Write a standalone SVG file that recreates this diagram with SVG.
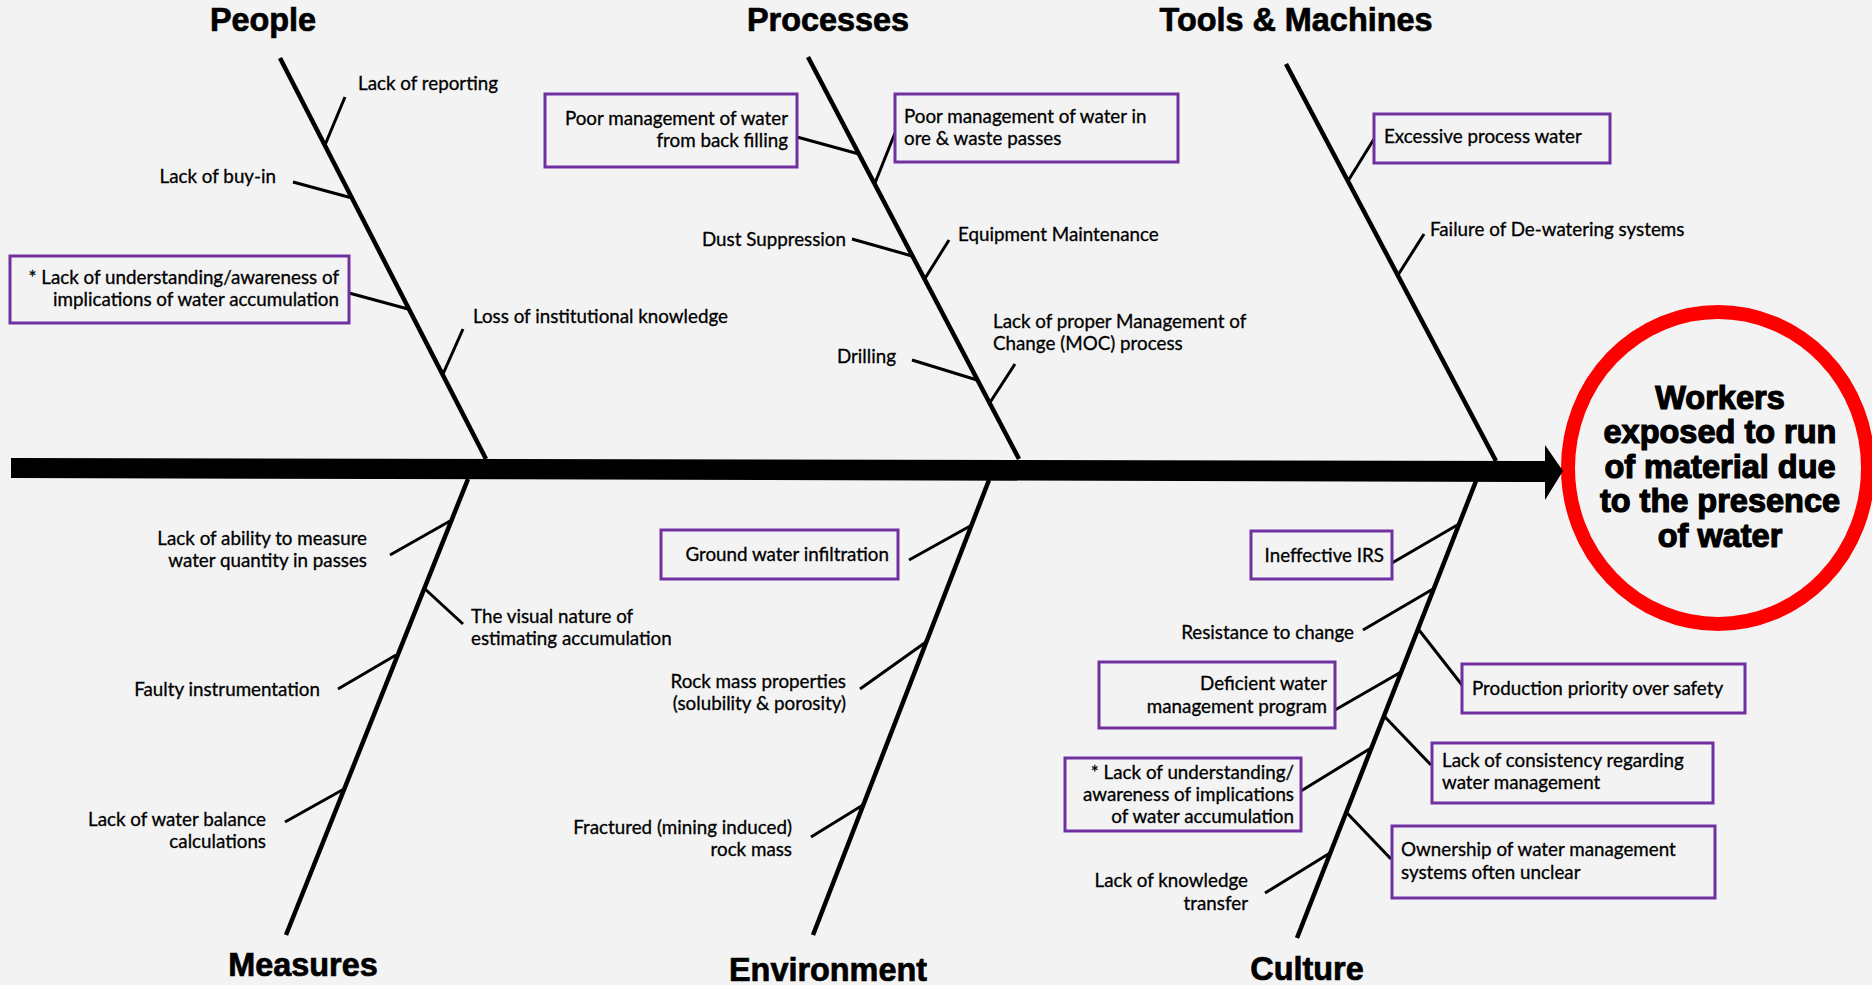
<svg xmlns="http://www.w3.org/2000/svg" width="1872" height="985" viewBox="0 0 1872 985">
<style>
.bg{fill:#f3f3f3}
.bone{stroke:#000;stroke-width:4.5;fill:none;stroke-linecap:butt}
.br{stroke:#000;stroke-width:3;fill:none}
.box{fill:#f3f3f3;stroke:#7030a0;stroke-width:3}
.t{font-family:Lato,"Carlito","Liberation Sans",sans-serif;font-size:18.8px;fill:#000;stroke:#000;stroke-width:0.3}
.e{text-anchor:end}
.cat{font-family:"Liberation Sans",Arial,sans-serif;font-weight:bold;font-size:32.4px;fill:#000;text-anchor:middle;stroke:#000;stroke-width:0.7}
.eff{font-family:"Liberation Sans",Arial,sans-serif;font-weight:bold;font-size:32.5px;fill:#000;text-anchor:middle;stroke:#000;stroke-width:1.2}
</style>
<rect class="bg" x="0" y="0" width="1872" height="985"/>

<g id="head">
<ellipse cx="1718" cy="468" rx="150" ry="156" fill="#f3f3f3" stroke="#ff0000" stroke-width="14"/>
<text class="eff"><tspan x="1720" y="409">Workers</tspan><tspan x="1720" y="443">exposed to run</tspan><tspan x="1720" y="478">of material due</tspan><tspan x="1720" y="512">to the presence</tspan><tspan x="1720" y="547">of water</tspan></text>
</g>

<g id="connectors">
<polygon points="11,458 1545,461 1545,482 11,478" fill="#000"/>
<polygon points="1545,445 1563,471 1545,500" fill="#000"/>
<line class="bone" x1="280" y1="58" x2="486" y2="459"/>
<line class="bone" x1="808" y1="57" x2="1019" y2="459"/>
<line class="bone" x1="1286" y1="64" x2="1496" y2="461"/>
<line class="bone" x1="468" y1="479" x2="286" y2="935"/>
<line class="bone" x1="989" y1="480" x2="813" y2="935"/>
<line class="bone" x1="1476" y1="481" x2="1297" y2="938"/>
<!-- People -->
<line class="br" x1="345" y1="97" x2="325" y2="145"/>
<line class="br" x1="293" y1="182" x2="352" y2="198"/>
<line class="br" x1="349" y1="293" x2="408" y2="309"/>
<line class="br" x1="463" y1="329" x2="443" y2="374"/>
<!-- Processes -->
<line class="br" x1="797" y1="137" x2="859" y2="154"/>
<line class="br" x1="895" y1="133" x2="875" y2="183"/>
<line class="br" x1="852" y1="239" x2="912" y2="256"/>
<line class="br" x1="949" y1="240" x2="924" y2="280"/>
<line class="br" x1="1015" y1="364" x2="989" y2="404"/>
<line class="br" x1="912" y1="360" x2="977" y2="380"/>
<!-- Tools -->
<line class="br" x1="1374" y1="139" x2="1348" y2="181"/>
<line class="br" x1="1424" y1="234" x2="1398" y2="275"/>
<!-- Measures -->
<line class="br" x1="390" y1="555" x2="450" y2="521"/>
<line class="br" x1="463" y1="624" x2="425" y2="589"/>
<line class="br" x1="338" y1="689" x2="396" y2="655"/>
<line class="br" x1="285" y1="822" x2="344" y2="789"/>
<!-- Environment -->
<line class="br" x1="909" y1="560" x2="972" y2="525"/>
<line class="br" x1="860" y1="689" x2="926" y2="642"/>
<line class="br" x1="811" y1="837" x2="863" y2="805"/>
<!-- Culture -->
<line class="br" x1="1392" y1="563" x2="1459" y2="524"/>
<line class="br" x1="1363" y1="630" x2="1433" y2="589"/>
<line class="br" x1="1335" y1="710" x2="1401" y2="672"/>
<line class="br" x1="1301" y1="791" x2="1371" y2="748"/>
<line class="br" x1="1265" y1="893" x2="1330" y2="853"/>
<line class="br" x1="1462" y1="685" x2="1419" y2="630"/>
<line class="br" x1="1431" y1="765" x2="1385" y2="717"/>
<line class="br" x1="1391" y1="859" x2="1347" y2="813"/>
</g>

<g id="cat-people"><text class="cat" x="263" y="31">People</text></g>
<g id="cat-processes"><text class="cat" x="828" y="31">Processes</text></g>
<g id="cat-tools"><text class="cat" x="1296" y="31">Tools &amp; Machines</text></g>
<g id="cat-measures"><text class="cat" x="303" y="976">Measures</text></g>
<g id="cat-environment"><text class="cat" x="828" y="981">Environment</text></g>
<g id="cat-culture"><text class="cat" x="1307" y="980">Culture</text></g>

<g id="n-lack-reporting"><text class="t" x="358" y="90">Lack of reporting</text></g>
<g id="n-buy-in"><text class="t e" x="276" y="183">Lack of buy-in</text></g>
<g id="n-understanding-1"><rect class="box" x="10" y="256" width="339" height="67"/><text class="t e"><tspan x="339" y="284">* Lack of understanding/awareness of</tspan><tspan x="339" y="306">implications of water accumulation</tspan></text></g>
<g id="n-loss-knowledge"><text class="t" x="473" y="323">Loss of institutional knowledge</text></g>

<g id="n-backfill"><rect class="box" x="545" y="94" width="252" height="73"/><text class="t e"><tspan x="788" y="125">Poor management of water</tspan><tspan x="788" y="147">from back filling</tspan></text></g>
<g id="n-passes"><rect class="box" x="895" y="94" width="283" height="68"/><text class="t"><tspan x="904" y="123">Poor management of water in</tspan><tspan x="904" y="145">ore &amp; waste passes</tspan></text></g>
<g id="n-dust"><text class="t e" x="846" y="246">Dust Suppression</text></g>
<g id="n-equipment"><text class="t" x="958" y="241">Equipment Maintenance</text></g>
<g id="n-moc"><text class="t"><tspan x="993" y="328">Lack of proper Management of</tspan><tspan x="993" y="350">Change (MOC) process</tspan></text></g>
<g id="n-drilling"><text class="t e" x="896" y="363">Drilling</text></g>

<g id="n-excess"><rect class="box" x="1374" y="114" width="236" height="49"/><text class="t" x="1384" y="143">Excessive process water</text></g>
<g id="n-dewater"><text class="t" x="1430" y="236">Failure of De-watering systems</text></g>

<g id="n-measure-qty"><text class="t e"><tspan x="367" y="545">Lack of ability to measure</tspan><tspan x="367" y="567">water quantity in passes</tspan></text></g>
<g id="n-visual"><text class="t"><tspan x="471" y="623">The visual nature of</tspan><tspan x="471" y="645">estimating accumulation</tspan></text></g>
<g id="n-faulty"><text class="t e" x="320" y="696">Faulty instrumentation</text></g>
<g id="n-balance"><text class="t e"><tspan x="266" y="826">Lack of water balance</tspan><tspan x="266" y="848">calculations</tspan></text></g>

<g id="n-ground"><rect class="box" x="661" y="530" width="237" height="49"/><text class="t e" x="889" y="561">Ground water infiltration</text></g>
<g id="n-rock"><text class="t e"><tspan x="846" y="688">Rock mass properties</tspan><tspan x="846" y="710">(solubility &amp; porosity)</tspan></text></g>
<g id="n-fractured"><text class="t e"><tspan x="792" y="834">Fractured (mining induced)</tspan><tspan x="792" y="856">rock mass</tspan></text></g>

<g id="n-irs"><rect class="box" x="1251" y="531" width="141" height="48"/><text class="t e" x="1384" y="562">Ineffective IRS</text></g>
<g id="n-resistance"><text class="t e" x="1354" y="639">Resistance to change</text></g>
<g id="n-deficient"><rect class="box" x="1099" y="662" width="236" height="66"/><text class="t e"><tspan x="1327" y="690">Deficient water</tspan><tspan x="1327" y="713">management program</tspan></text></g>
<g id="n-understanding-2"><rect class="box" x="1065" y="758" width="236" height="73"/><text class="t e"><tspan x="1294" y="779">* Lack of understanding/</tspan><tspan x="1294" y="801">awareness of implications</tspan><tspan x="1294" y="823">of water accumulation</tspan></text></g>
<g id="n-knowledge-transfer"><text class="t e"><tspan x="1248" y="887">Lack of knowledge</tspan><tspan x="1248" y="910">transfer</tspan></text></g>
<g id="n-production"><rect class="box" x="1462" y="664" width="283" height="49"/><text class="t" x="1472" y="695">Production priority over safety</text></g>
<g id="n-consistency"><rect class="box" x="1432" y="743" width="281" height="60"/><text class="t"><tspan x="1442" y="767">Lack of consistency regarding</tspan><tspan x="1442" y="789">water management</tspan></text></g>
<g id="n-ownership"><rect class="box" x="1392" y="826" width="323" height="72"/><text class="t"><tspan x="1401" y="856">Ownership of water management</tspan><tspan x="1401" y="879">systems often unclear</tspan></text></g>
</svg>
